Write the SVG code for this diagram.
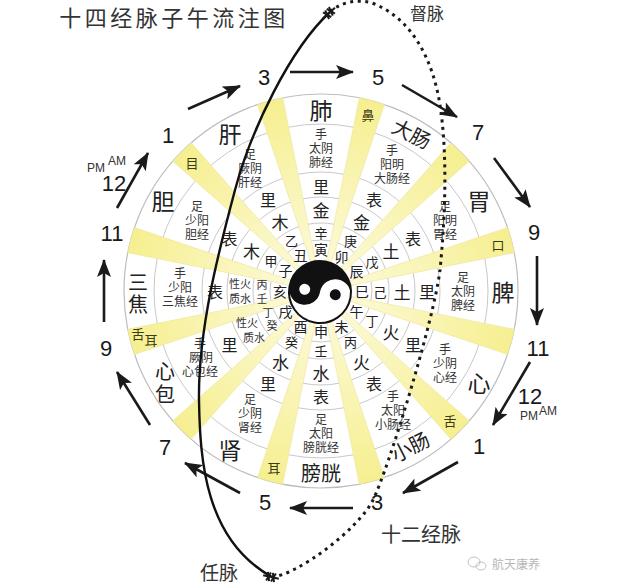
<svg xmlns="http://www.w3.org/2000/svg" xmlns:xlink="http://www.w3.org/1999/xlink" width="624" height="588" viewBox="0 0 624 588">
<style>
text { font-family: "Noto Sans CJK SC", "Noto Sans", sans-serif; dominant-baseline: central; text-anchor: middle; fill: #222; }
.org { font-size: 23px; }
.org2 { font-size: 20px; }
.bl { font-size: 16px; }
.el { font-size: 17px; }
.st { font-size: 13px; }
.br { font-size: 14px; }
.mer { font-size: 12px; fill: #333; }
.sm { font-size: 11px; fill: #333; }
.wl { font-size: 13px; fill: #3b3a10; }
.num { font-family: "Liberation Sans", Arial, sans-serif; font-size: 22px; fill: #1a1a1a; }
.ap { font-family: "Liberation Sans", Arial, sans-serif; font-size: 12px; fill: #333; }
.lab { fill: #333; }
.ring { fill: none; stroke: #c9c9c9; stroke-width: 1; }
.arr { stroke: #1a1a1a; stroke-width: 2.6; fill: none; marker-end: url(#ah); }
.wedge { fill: url(#wg); stroke: #ece6a0; stroke-width: 0.6; }
.star line { stroke: #1a1a1a; stroke-width: 2; }
</style>
<defs>
  <radialGradient id="wg" gradientUnits="userSpaceOnUse" cx="0" cy="0" r="197">
    <stop offset="0" stop-color="#fdfbe2"/>
    <stop offset="1" stop-color="#f6ef90"/>
  </radialGradient>
  <marker id="ah" markerUnits="userSpaceOnUse" markerWidth="18" markerHeight="14" refX="17" refY="7" orient="auto" viewBox="0 0 18 14">
    <path d="M0,0 L18,7 L0,14 L4,7 Z" fill="#1a1a1a"/>
  </marker>
  <path id="w" class="wedge" d="M31,-2.5 L196.6,-13 A197,197 0 0 1 196.6,13 L31,2.5 Z"/>
</defs>

<rect width="624" height="588" fill="#ffffff"/>

<g id="title">
  <text x="174" y="16" style="font-size:22px; letter-spacing:3.5px; fill:#333">十四经脉子午流注图</text>
</g>

<g id="wheel">
  <circle cx="321" cy="291" r="197" fill="#ffffff" stroke="#bdbdbd" stroke-width="1.2"/>
  <circle class="ring" cx="321" cy="291" r="167"/>
  <circle class="ring" cx="321" cy="291" r="119"/>
  <circle class="ring" cx="321" cy="291" r="94"/>
  <circle class="ring" cx="321" cy="291" r="68"/>
  <circle class="ring" cx="321" cy="291" r="51"/>
</g>

<g id="wedges" transform="translate(321 291)">
  <use xlink:href="#w" transform="rotate(-15)"/>
  <use xlink:href="#w" transform="rotate(-45)"/>
  <use xlink:href="#w" transform="rotate(-75)"/>
  <use xlink:href="#w" transform="rotate(-105)"/>
  <use xlink:href="#w" transform="rotate(-135)"/>
  <use xlink:href="#w" transform="rotate(-165)"/>
  <use xlink:href="#w" transform="rotate(-195)"/>
  <use xlink:href="#w" transform="rotate(-225)"/>
  <use xlink:href="#w" transform="rotate(-255)"/>
  <use xlink:href="#w" transform="rotate(-285)"/>
  <use xlink:href="#w" transform="rotate(-315)"/>
  <use xlink:href="#w" transform="rotate(-345)"/>
</g>

<g id="wedge-labels">
  <text class="wl" x="498" y="244">口</text>
  <text class="wl" x="368" y="114">鼻</text>
  <text class="wl" x="192" y="162">目</text>
  <text class="wl" x="138" y="333">舌</text>
  <text class="wl" x="151" y="339">耳</text>
  <text class="wl" x="274" y="467">耳</text>
  <text class="wl" x="450" y="420">舌</text>
</g>

<g id="sector-pi">
  <text class="br" x="362" y="291">巳</text>
  <text class="st" x="380" y="291">己</text>
  <text class="el" x="402" y="291">土</text>
  <text class="bl" x="427" y="291">里</text>
  <text class="mer" x="463" y="276">足</text>
  <text class="mer" x="463" y="290">太阴</text>
  <text class="mer" x="463" y="304">脾经</text>
  <text class="org" x="503" y="291">脾</text>
</g>

<g id="sector-wei">
  <text class="br" x="356.5" y="270.5">辰</text>
  <text class="st" x="372" y="261.5">戊</text>
  <text class="el" x="391" y="250.5">土</text>
  <text class="bl" x="413" y="238">表</text>
  <text class="mer" x="445" y="205">足</text>
  <text class="mer" x="445" y="219">阳明</text>
  <text class="mer" x="445" y="233">胃经</text>
  <text class="org" x="479" y="200">胃</text>
</g>

<g id="sector-dachang">
  <text class="br" x="341.5" y="255.5">卯</text>
  <text class="st" x="350.5" y="240">庚</text>
  <text class="el" x="361.5" y="221">金</text>
  <text class="bl" x="374" y="199">表</text>
  <text class="mer" x="392" y="149">手</text>
  <text class="mer" x="392" y="163">阳明</text>
  <text class="mer" x="392" y="177">大肠经</text>
  <text class="org2" x="412" y="133" transform="rotate(27 412 133)">大肠</text>
</g>

<g id="sector-fei">
  <text class="br" x="321" y="249">寅</text>
  <text class="st" x="321" y="232">辛</text>
  <text class="el" x="321" y="209">金</text>
  <text class="bl" x="321" y="186">里</text>
  <text class="mer" x="321" y="133">手</text>
  <text class="mer" x="321" y="147">太阴</text>
  <text class="mer" x="321" y="161">肺经</text>
  <text class="org" x="321" y="109">肺</text>
</g>

<g id="sector-gan">
  <text class="br" x="300.5" y="255">丑</text>
  <text class="st" x="291.5" y="240">乙</text>
  <text class="el" x="280" y="221">木</text>
  <text class="bl" x="268" y="199">里</text>
  <text class="mer" x="250" y="153">足</text>
  <text class="mer" x="250" y="167">厥阴</text>
  <text class="mer" x="250" y="181">肝经</text>
  <text class="org" x="230" y="133">肝</text>
</g>

<g id="sector-dan">
  <text class="br" x="285.5" y="270">子</text>
  <text class="st" x="271" y="260">甲</text>
  <text class="el" x="251.5" y="250">木</text>
  <text class="bl" x="229.5" y="237.5">表</text>
  <text class="mer" x="197" y="205">足</text>
  <text class="mer" x="197" y="219">少阳</text>
  <text class="mer" x="197" y="233">胆经</text>
  <text class="org" x="163" y="200">胆</text>
</g>

<g id="sector-sanjiao">
  <text class="br" x="280" y="291">亥</text>
  <text class="sm" x="262" y="284">丙</text>
  <text class="sm" x="262" y="298">壬</text>
  <text class="sm" x="240" y="283">性火</text>
  <text class="sm" x="240" y="298">质水</text>
  <text class="bl" x="215" y="291">表</text>
  <text class="mer" x="180" y="272">手</text>
  <text class="mer" x="180" y="286">少阳</text>
  <text class="mer" x="180" y="300">三焦经</text>
  <text class="org2" x="138" y="281">三</text>
  <text class="org2" x="138" y="303">焦</text>
</g>

<g id="sector-xinbao">
  <text class="br" x="285.5" y="311">戌</text>
  <text class="sm" x="268" y="312">丁</text>
  <text class="sm" x="272" y="325">癸</text>
  <text class="sm" x="247" y="322">性火</text>
  <text class="sm" x="254" y="337">质水</text>
  <text class="bl" x="229.5" y="343.5">里</text>
  <text class="mer" x="200" y="342">手</text>
  <text class="mer" x="201" y="356">厥阴</text>
  <text class="mer" x="200" y="370">心包经</text>
  <text class="org2" x="165" y="370">心</text>
  <text class="org2" x="165" y="393">包</text>
</g>

<g id="sector-shen">
  <text class="br" x="300.5" y="326">酉</text>
  <text class="st" x="291.5" y="341">癸</text>
  <text class="el" x="280.5" y="361">水</text>
  <text class="bl" x="268" y="382.5">里</text>
  <text class="mer" x="250" y="398">足</text>
  <text class="mer" x="250" y="412">少阴</text>
  <text class="mer" x="250" y="426">肾经</text>
  <text class="org" x="230" y="449">肾</text>
</g>

<g id="sector-pangguang">
  <text class="br" x="321" y="331">申</text>
  <text class="st" x="321" y="350">壬</text>
  <text class="el" x="321" y="372">水</text>
  <text class="bl" x="321" y="396">表</text>
  <text class="mer" x="321" y="418">足</text>
  <text class="mer" x="321" y="432">太阳</text>
  <text class="mer" x="321" y="446">膀胱经</text>
  <text class="org2" x="321" y="472">膀胱</text>
</g>

<g id="sector-xiaochang">
  <text class="br" x="341.5" y="326">未</text>
  <text class="st" x="350.5" y="341">丙</text>
  <text class="el" x="361.5" y="361">火</text>
  <text class="bl" x="374" y="382.5">表</text>
  <text class="mer" x="393" y="395">手</text>
  <text class="mer" x="393" y="409">太阳</text>
  <text class="mer" x="393" y="423">小肠经</text>
  <text class="org2" x="410" y="446" transform="rotate(-27 410 446)">小肠</text>
</g>

<g id="sector-xin">
  <text class="br" x="356.5" y="311">午</text>
  <text class="st" x="372" y="320.5">丁</text>
  <text class="el" x="391" y="331.5">火</text>
  <text class="bl" x="413" y="343.5">里</text>
  <text class="mer" x="445" y="348">手</text>
  <text class="mer" x="445" y="362">少阴</text>
  <text class="mer" x="445" y="376">心经</text>
  <text class="org" x="479" y="382">心</text>
</g>

<g id="taiji" transform="translate(320 292) rotate(10)">
  <circle cx="0" cy="0" r="31" fill="#ffffff"/>
  <path d="M-31,0 A31,31 0 0 1 31,0 A15.5,15.5 0 0 0 0,0 A15.5,15.5 0 0 1 -31,0 Z" fill="#111"/>
  <circle cx="-15.5" cy="0" r="5.5" fill="#ffffff"/>
  <circle cx="15.5" cy="0" r="5.5" fill="#111"/>
  <circle cx="0" cy="0" r="31" fill="none" stroke="#111" stroke-width="2"/>
</g>

<g id="connectors">
  <line class="arr" x1="188" y1="109" x2="240" y2="86"/>
  <line class="arr" x1="290" y1="72" x2="353" y2="72"/>
  <line class="arr" x1="402" y1="85" x2="457" y2="117"/>
  <line class="arr" x1="494" y1="158" x2="530" y2="207"/>
  <line class="arr" x1="537" y1="256" x2="537" y2="325"/>
  <line class="arr" x1="530" y1="362" x2="493" y2="425"/>
  <line class="arr" x1="458" y1="462" x2="403" y2="493"/>
  <line class="arr" x1="353" y1="508" x2="290" y2="508"/>
  <line class="arr" x1="240" y1="493" x2="185" y2="463"/>
  <line class="arr" x1="150" y1="425" x2="117" y2="372"/>
  <line class="arr" x1="104" y1="322" x2="104" y2="260"/>
  <line class="arr" x1="117" y1="208" x2="148" y2="153"/>

  <path id="renmai" d="M330,12 C290,49 251,130 235,190 C219,250 198,330 199,400 C200,460 205,540 272,577" fill="none" stroke="#111" stroke-width="2.4"/>
  <path id="dumai" d="M272,577 C297,575 358,530 373,500 C388,470 434,320 440,270 C446,210 447,150 440,105 C433,60 412,18 372,3 C355,-2 338,4 330,12" fill="none" stroke="#1a1a1a" stroke-width="3" stroke-dasharray="3 4.5"/>

  <g class="star" transform="translate(329 13) rotate(-42)">
    <line x1="-8" y1="0" x2="8" y2="0"/>
    <line x1="-4" y1="-4.5" x2="-1" y2="4.5"/>
    <line x1="1" y1="-4.5" x2="4" y2="4.5"/>
    <line x1="-4" y1="4.5" x2="-1" y2="-4.5"/>
    <line x1="1" y1="4.5" x2="4" y2="-4.5"/>
  </g>
  <g class="star" transform="translate(271 577) rotate(12)">
    <line x1="-8" y1="0" x2="8" y2="0"/>
    <line x1="-4" y1="-4.5" x2="-1" y2="4.5"/>
    <line x1="1" y1="-4.5" x2="4" y2="4.5"/>
    <line x1="-4" y1="4.5" x2="-1" y2="-4.5"/>
    <line x1="1" y1="4.5" x2="4" y2="-4.5"/>
  </g>
</g>

<g id="hours">
  <text class="num" x="264" y="77">3</text>
  <text class="num" x="378" y="77">5</text>
  <text class="num" x="478" y="132">7</text>
  <text class="num" x="534" y="232">9</text>
  <text class="num" x="538" y="348">11</text>
  <text class="num" x="530" y="396">12</text>
  <text class="ap" x="529" y="416">PM</text>
  <text class="ap" x="548" y="411">AM</text>
  <text class="num" x="479" y="446">1</text>
  <text class="num" x="377" y="502">3</text>
  <text class="num" x="265" y="502">5</text>
  <text class="num" x="165" y="447">7</text>
  <text class="num" x="106" y="348">9</text>
  <text class="num" x="112" y="233">11</text>
  <text class="num" x="114" y="183">12</text>
  <text class="ap" x="96" y="168">PM</text>
  <text class="ap" x="117" y="161">AM</text>
  <text class="num" x="168" y="135">1</text>
</g>

<g id="labels">
  <text class="lab" x="427" y="12" style="font-size:17px">督脉</text>
  <text class="lab" x="421" y="533" style="font-size:20px">十二经脉</text>
  <text class="lab" x="219" y="571" style="font-size:19px">任脉</text>
</g>

<g id="watermark" opacity="0.6">
  <ellipse cx="474" cy="562" rx="6" ry="5" fill="none" stroke="#999" stroke-width="1"/>
  <ellipse cx="481" cy="566" rx="5" ry="4" fill="none" stroke="#999" stroke-width="1"/>
  <text x="516" y="563" style="font-size:12px; fill:#888">航天康养</text>
</g>
</svg>
